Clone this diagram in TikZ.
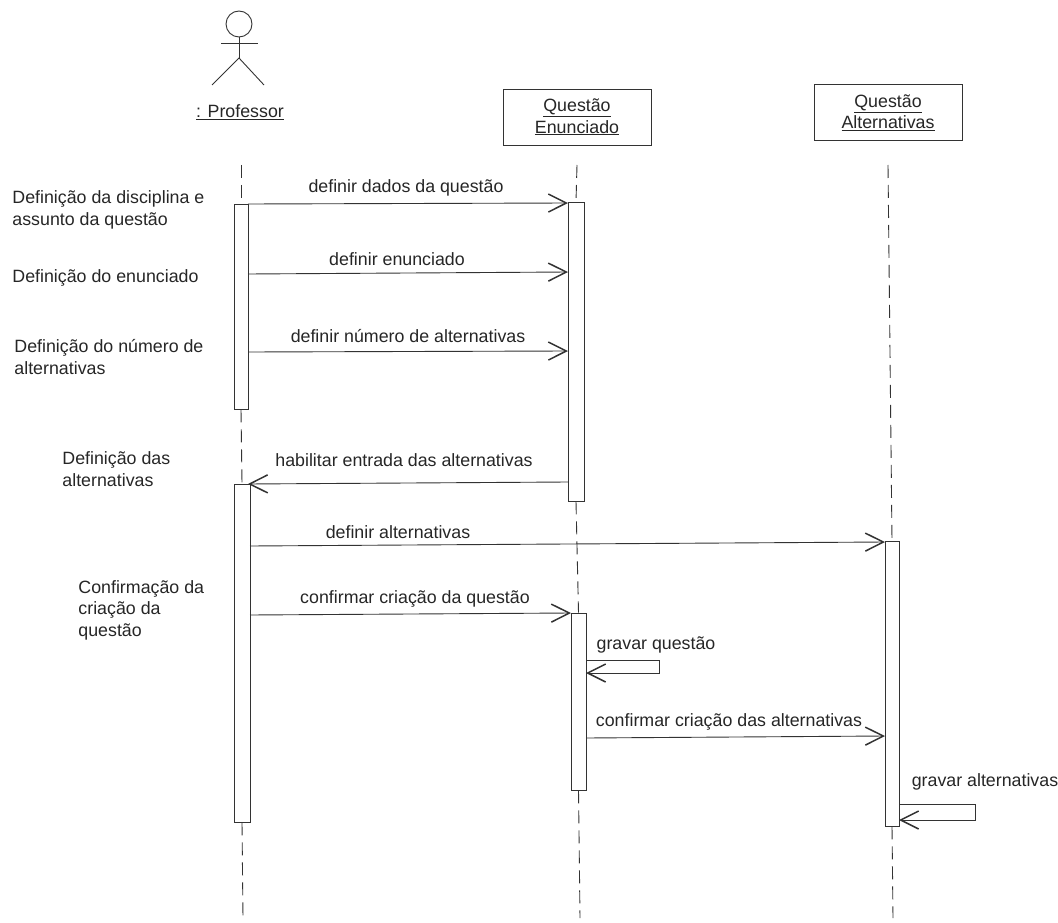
\documentclass[tikz,border=0pt]{standalone}
\usepackage{xcolor}
\usepackage{fontspec}
\setmainfont{Liberation Sans}
\usetikzlibrary{arrows.meta}

\begin{document}
\begin{tikzpicture}[x=1pt,y=-1pt,line width=0.9pt,draw=black!80,text=black!85,font=\fontsize{17.8}{21.5}\selectfont,
    box/.style={draw,align=center,fill=white,minimum width=148pt,minimum height=56pt},
    bar/.style={draw,fill=white,inner sep=0pt,minimum width=14pt},
    note/.style={align=left,anchor=west,inner sep=0pt},
    lbl/.style={inner sep=0pt},
    msg/.style={-{Straight Barb[length=18pt,width=18pt,line width=1.5pt]}},
    life/.style={dash pattern=on 13pt off 7pt}]
    \useasboundingbox (0,0) rectangle (1058,923);
    % actor
    \node[draw,circle,inner sep=0pt,minimum size=26pt] (head) at (239,24) {};
    \coordinate (armL) at (221,43);
    \coordinate (armR) at (258,43);
    \coordinate (hip) at (239,58);
    \coordinate (legL) at (212,85);
    \coordinate (legR) at (264,85);
    \draw (head.south) -- (hip);
    \draw (armL) -- (armR);
    \draw (legL) -- (hip) -- (legR);
    \node[lbl] (prof) at (240,112) {\underline{: Professor}};
    % objects
    \node[box] (enun) at (577,117) {\underline{Questão}\\\underline{Enunciado}};
    \node[box] (alt) at (888,112.5) {\underline{Questão}\\\underline{Alternativas}};
    % activation bars
    \node[bar,minimum height=205pt] (profA) at (241,306.5) {};
    \node[bar,minimum height=338pt,minimum width=16pt] (profB) at (242,653) {};
    \node[bar,minimum height=299pt,minimum width=16pt] (enunA) at (576,351.5) {};
    \node[bar,minimum height=177pt,minimum width=15pt] (enunB) at (578.5,701.5) {};
    \node[bar,minimum height=285pt] (altA) at (892,683.5) {};
    % lifelines
    \coordinate (profTop) at (241,165);
    \coordinate (profEnd) at (243,918);
    \coordinate (enunTop) at (577,165);
    \coordinate (enunEnd) at (580,918);
    \coordinate (altTop) at (888,165);
    \coordinate (altEnd) at (893,918);
    \draw[life] (profTop) -- (profA.north);
    \draw[life] (profA.south) -- (profB.north);
    \draw[life] (profB.south) -- (profEnd);
    \draw[life] (enunTop) -- (enunA.north);
    \draw[life] (enunA.south) -- (enunB.north);
    \draw[life] (enunB.south) -- (enunEnd);
    \draw[life] (altTop) -- (altA.north);
    \draw[life] (altA.south) -- (altEnd);
    % messages
    \coordinate (m1a) at (248,204);
    \coordinate (m1b) at (568,203);
    \coordinate (m2a) at (248,274);
    \coordinate (m2b) at (568,272);
    \coordinate (m3a) at (248,352);
    \coordinate (m3b) at (568,351);
    \coordinate (m4a) at (568,482);
    \coordinate (m4b) at (248,484);
    \coordinate (m5a) at (250,546);
    \coordinate (m5b) at (885,542);
    \coordinate (m6a) at (250,615);
    \coordinate (m6b) at (571,613);
    \coordinate (m7a) at (586,660);
    \coordinate (m7c) at (659,660);
    \coordinate (m7d) at (659,673);
    \coordinate (m7b) at (586,673);
    \coordinate (m8a) at (586,738);
    \coordinate (m8b) at (885,736);
    \coordinate (m9a) at (899,804);
    \coordinate (m9c) at (975,804);
    \coordinate (m9d) at (975,820);
    \coordinate (m9b) at (899,820);
    \draw[msg] (m1a) -- (m1b);
    \draw[msg] (m2a) -- (m2b);
    \draw[msg] (m3a) -- (m3b);
    \draw[msg] (m4a) -- (m4b);
    \draw[msg] (m5a) -- (m5b);
    \draw[msg] (m6a) -- (m6b);
    \draw[msg] (m7a) -- (m7c) -- (m7d) -- (m7b);
    \draw[msg] (m8a) -- (m8b);
    \draw[msg] (m9a) -- (m9c) -- (m9d) -- (m9b);
    % message labels
    \node[lbl] (t1) at (406,188) {definir dados da questão};
    \node[lbl] (t2) at (397,259) {definir enunciado};
    \node[lbl] (t3) at (408,336) {definir número de alternativas};
    \node[lbl] (t4) at (404,460) {habilitar entrada das alternativas};
    \node[lbl] (t5) at (398,532) {definir alternativas};
    \node[lbl] (t6) at (415,599) {confirmar criação da questão};
    \node[lbl] (t7) at (656,645) {gravar questão};
    \node[lbl] (t8) at (729,722) {confirmar criação das alternativas};
    \node[lbl] (t9) at (985,782) {gravar alternativas};
    % notes
    \node[note] (n1) at (12,210) {Definição da disciplina e\\assunto da questão};
    \node[note] (n2) at (12,278) {Definição do enunciado};
    \node[note] (n3) at (14,357) {Definição do número de\\alternativas};
    \node[note] (n4) at (62,469) {Definição das\\alternativas};
    \node[note] (n5) at (78,610) {Confirmação da\\criação da\\questão};
\end{tikzpicture}
\end{document}
